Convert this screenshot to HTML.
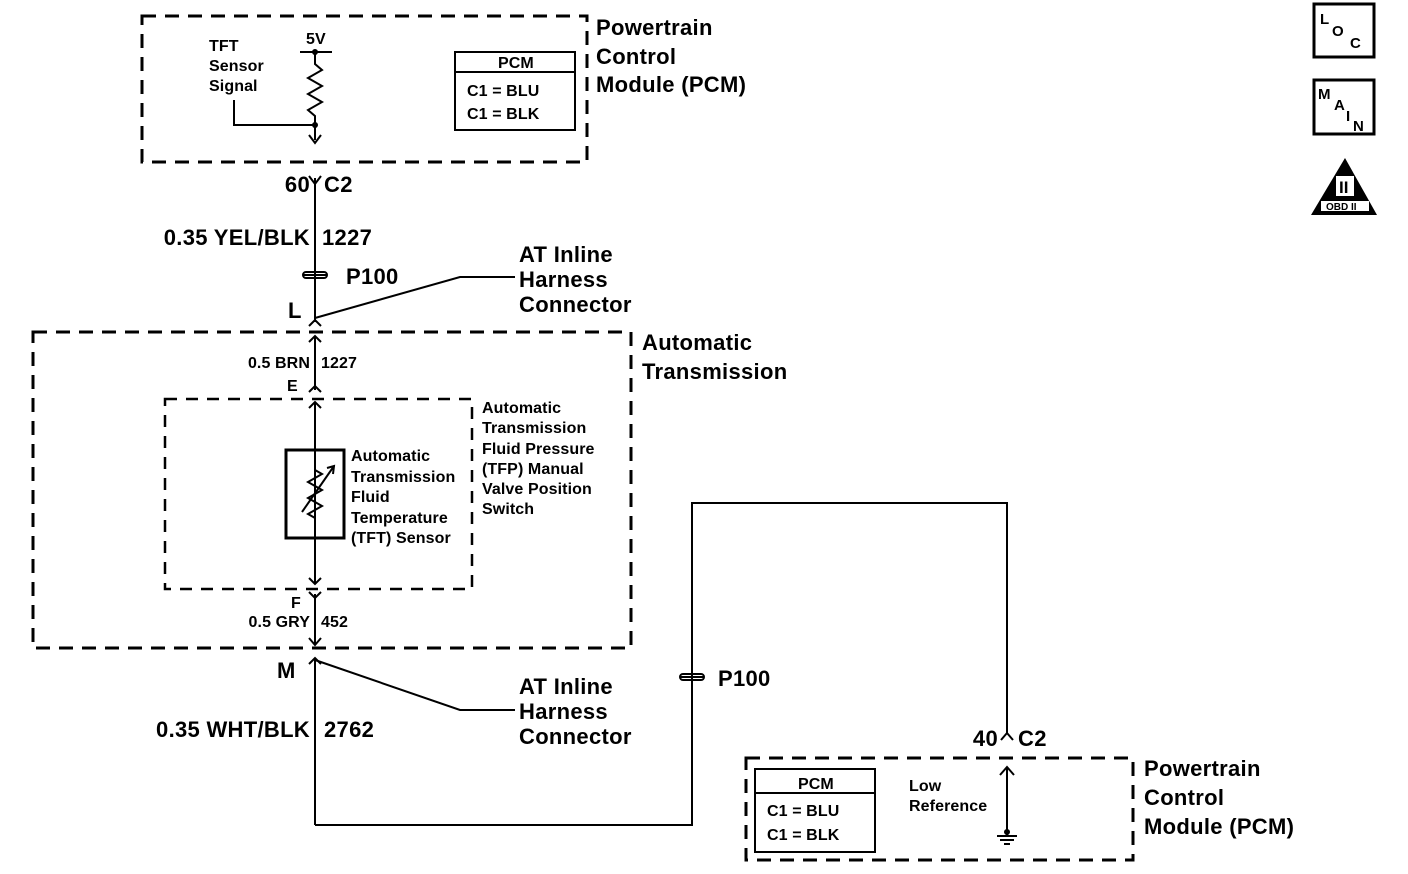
<!DOCTYPE html>
<html><head><style>
html,body{margin:0;padding:0;background:#fff;}
svg{display:block;font-family:"Liberation Sans",Arial,sans-serif;}
</style></head><body>
<svg width="1408" height="874" viewBox="0 0 1408 874" xmlns="http://www.w3.org/2000/svg">
<g fill="none" stroke="#000" stroke-width="3" stroke-dasharray="14,9">
<rect x="142" y="16" width="445" height="146"/>
<rect x="33" y="332" width="598" height="316"/>
<rect x="746" y="758" width="387" height="102"/>
</g>
<g fill="none" stroke="#000" stroke-width="2.5" stroke-dasharray="12,9">
<rect x="165" y="399" width="307" height="190"/>
</g>
<g fill="none" stroke="#000" stroke-width="2">
<line x1="300" y1="52" x2="332" y2="52"/>
<polyline points="315,52 315,64 322,70 308,78 322,86 308,94 322,102 308,110 315,116 315,140"/>
<polyline points="309,135 315,143 321,135"/>
<polyline points="234,100 234,125 315,125"/>
<rect x="455" y="52" width="120" height="78"/>
<line x1="455" y1="72" x2="575" y2="72"/>
<line x1="315" y1="178" x2="315" y2="322"/>
<polyline points="309,176 315,184 321,176"/>
<rect x="303" y="272" width="24" height="6" rx="3"/>
<polyline points="315,318 460,277 515,277"/>
<polyline points="309,326 315,320 321,326"/>
<line x1="315" y1="336" x2="315" y2="390"/>
<polyline points="309,342 315,336 321,342"/>
<polyline points="309,392 315,386 321,392"/>
<line x1="315" y1="402" x2="315" y2="584"/>
<polyline points="309,408 315,402 321,408"/>
<polyline points="309,578 315,584 321,578"/>
<rect x="286" y="450" width="58" height="88" stroke-width="3"/>
<polyline points="315,450 315,470 322,474 308,482 322,490 308,498 322,506 308,514 315,518 315,538"/>
<line x1="302" y1="512" x2="334" y2="466"/>
<polyline points="327,468 334,466 333,474"/>
<line x1="315" y1="594" x2="315" y2="645"/>
<polyline points="309,592 315,598 321,592"/>
<polyline points="309,638 315,645 321,638"/>
<line x1="315" y1="658" x2="315" y2="825"/>
<polyline points="309,664 315,658 321,664"/>
<polyline points="315,660 460,710 515,710"/>
<polyline points="315,825 692,825 692,503 1007,503 1007,733"/>
<rect x="680" y="674" width="24" height="6" rx="3"/>
<polyline points="1001,740 1007,733 1013,740"/>
<rect x="755" y="769" width="120" height="83"/>
<line x1="755" y1="793" x2="875" y2="793"/>
<line x1="1007" y1="768" x2="1007" y2="835"/>
<polyline points="1000,775 1007,767 1014,775"/>
<line x1="997" y1="836" x2="1017" y2="836"/>
<line x1="1000" y1="840" x2="1014" y2="840"/>
<line x1="1004" y1="844" x2="1010" y2="844"/>
<rect x="1314" y="4" width="60" height="53" stroke-width="3"/>
<rect x="1314" y="80" width="60" height="54" stroke-width="3"/>
</g>
<g fill="#000">
<circle cx="315" cy="52" r="3"/><circle cx="315" cy="125" r="3"/>
<circle cx="1007" cy="832" r="3"/>
<line x1="303" y1="275" x2="327" y2="275" stroke="#000" stroke-width="2"/>
<line x1="680" y1="677" x2="704" y2="677" stroke="#000" stroke-width="2"/>
<polygon points="1345,158 1377,215 1311,215"/>
</g>
<g fill="#000" font-size="22" font-weight="bold" letter-spacing="0.3">
<text x="596" y="35">Powertrain</text>
<text x="596" y="64">Control</text>
<text x="596" y="92">Module (PCM)</text>
<text x="310" y="192" text-anchor="end">60</text><text x="324" y="192">C2</text>
<text x="310" y="245" text-anchor="end">0.35 YEL/BLK</text><text x="322" y="245">1227</text>
<text x="346" y="284">P100</text>
<text x="288" y="318">L</text>
<text x="519" y="262">AT Inline</text>
<text x="519" y="287">Harness</text>
<text x="519" y="312">Connector</text>
<text x="642" y="350">Automatic</text>
<text x="642" y="379">Transmission</text>
<text x="277" y="678">M</text>
<text x="519" y="694">AT Inline</text>
<text x="519" y="719">Harness</text>
<text x="519" y="744">Connector</text>
<text x="310" y="737" text-anchor="end">0.35 WHT/BLK</text><text x="324" y="737">2762</text>
<text x="718" y="686">P100</text>
<text x="998" y="746" text-anchor="end">40</text><text x="1018" y="746">C2</text>
<text x="1144" y="776">Powertrain</text>
<text x="1144" y="805">Control</text>
<text x="1144" y="834">Module (PCM)</text>
</g>
<g fill="#000" font-size="16" font-weight="bold" letter-spacing="0.1">
<text x="209" y="51">TFT</text><text x="209" y="71">Sensor</text><text x="209" y="91">Signal</text>
<text x="306" y="44">5V</text>
<text x="498" y="68">PCM</text>
<text x="467" y="96">C1 = BLU</text><text x="467" y="119">C1 = BLK</text>
<text x="310" y="368" text-anchor="end">0.5 BRN</text><text x="321" y="368">1227</text>
<text x="287" y="391">E</text>
<text x="482" y="413">Automatic</text><text x="482" y="433">Transmission</text><text x="482" y="454">Fluid Pressure</text><text x="482" y="474">(TFP) Manual</text><text x="482" y="494">Valve Position</text><text x="482" y="514">Switch</text>
<text x="351" y="461">Automatic</text><text x="351" y="482">Transmission</text><text x="351" y="502">Fluid</text><text x="351" y="523">Temperature</text><text x="351" y="543">(TFT) Sensor</text>
<text x="291" y="608">F</text>
<text x="310" y="627" text-anchor="end">0.5 GRY</text><text x="321" y="627">452</text>
<text x="798" y="789">PCM</text>
<text x="767" y="816">C1 = BLU</text><text x="767" y="840">C1 = BLK</text>
<text x="909" y="791">Low</text><text x="909" y="811">Reference</text>
<text x="1320" y="24" font-size="15">L</text><text x="1332" y="36" font-size="15">O</text><text x="1350" y="48" font-size="15">C</text>
<text x="1318" y="99" font-size="15">M</text><text x="1334" y="110" font-size="15">A</text><text x="1346" y="121" font-size="15">I</text><text x="1353" y="131" font-size="15">N</text>
</g>
<rect x="1321" y="201" width="48" height="10" fill="#fff"/>
<text x="1326" y="210" font-size="10" font-weight="bold" fill="#000">OBD II</text>
<rect x="1336" y="176" width="18" height="20" fill="#fff"/>
<text x="1339" y="193" font-size="17" font-weight="bold" fill="#000">II</text>
</svg>
</body></html>
